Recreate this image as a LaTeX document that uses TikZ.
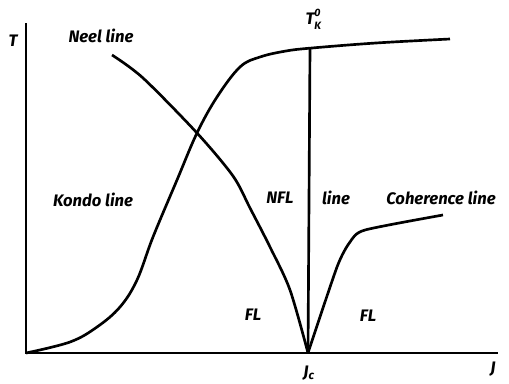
\documentclass[tikz,border=0pt]{standalone}
\usepackage{fontspec}
\setmainfont{Fira Sans}
\newcommand{\subsup}[2]{\rlap{\raisebox{-3.5pt}{\footnotesize#1}}\raisebox{6pt}{\footnotesize#2}}
\begin{document}
\begin{tikzpicture}[x=0.75pt,y=0.75pt]
\tikzstyle{line}=[draw,line width=2pt,line join=round]
\tikzstyle{axis}=[draw,line width=1.6pt]
\tikzstyle{lbl}=[font=\bfseries\itshape\fontsize{12.5}{14}\selectfont,inner sep=0pt]
\useasboundingbox(-26,-30)rectangle(483,353);
\coordinate(O)at(0,0);
\coordinate(Jc)at(282,0);
\coordinate(TK)at(284,305);
% axes
\path[axis](0,330)--(O)--(472,0);
\node[lbl]at(-13,312){T};
\node[lbl]at(467,-16){J};
\node[lbl]at(283,-20){J\textsubscript{c}};
% Kondo line
\path[line]plot[smooth,tension=0.6]coordinates{(0,0)(44,11)(71,26)(94,46)(111,73)(127,116)(151,173)(171,220)(191,256)(214,286)(234,296)(260,302)(286,305)(350,310)(424,314)};
\node[lbl]at(287,334){T\subsup{K}{0}};
% vertical line at J_c
\path[line](Jc)--(TK);
% Neel line
\path[line]plot[smooth,tension=0.5]coordinates{(86,298)(117,275)(171,220)(207,177)(224,145)(244,106)(264,63)(Jc)};
% coherence line
\path[line]plot[smooth,tension=0.4]coordinates{(Jc)(311,86)(324,111)(339,123)(417,138)};
% labels
\node[lbl]at(75,317){Neel line};
\node[lbl]at(67,153){Kondo line};
\node[lbl]at(254,155){NFL};
\node[lbl]at(310,155){line};
\node[lbl]at(415,155){Coherence line};
\node[lbl]at(227,38){FL};
\node[lbl]at(342,37){FL};
\end{tikzpicture}
\end{document}
